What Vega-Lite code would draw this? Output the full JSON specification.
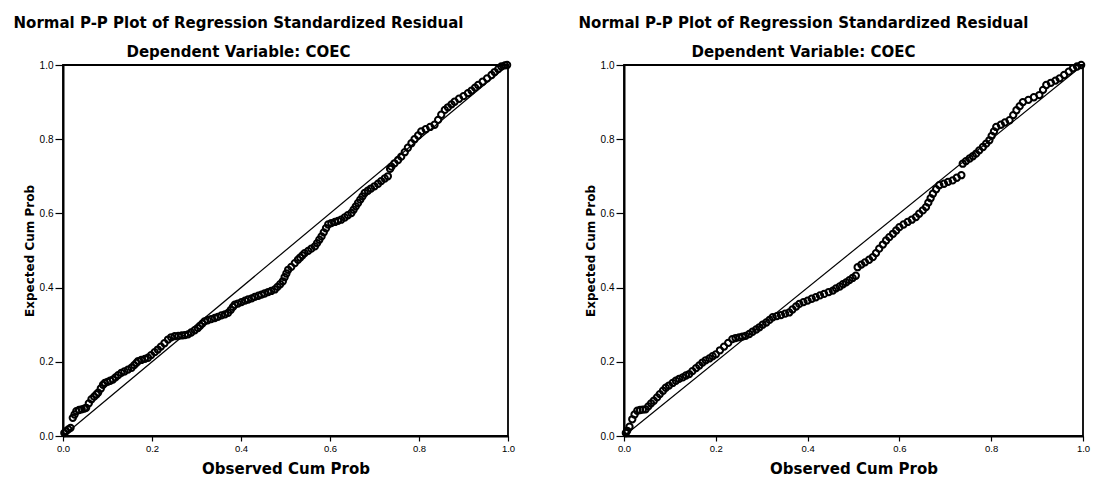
{
  "$schema": "https://vega.github.io/schema/vega-lite/v6.json",
  "background": "white",
  "padding": {"left": 12, "top": 14, "right": 0, "bottom": 0},
  "bounds": "flush",
  "spacing": 116,
  "datasets": {
    "diag": [{"x": 0, "y": 0}, {"x": 1, "y": 1}],
    "left": [
      {"x":0.003,"y":0.008},{"x":0.007,"y":0.013},{"x":0.012,"y":0.018},{"x":0.017,"y":0.022},{"x":0.022,"y":0.049},{"x":0.026,"y":0.058},{"x":0.030,"y":0.067},{"x":0.036,"y":0.070},{"x":0.042,"y":0.072},{"x":0.048,"y":0.074},{"x":0.052,"y":0.076},{"x":0.058,"y":0.088},{"x":0.064,"y":0.099},{"x":0.070,"y":0.106},{"x":0.075,"y":0.112},{"x":0.079,"y":0.117},{"x":0.085,"y":0.128},{"x":0.090,"y":0.138},{"x":0.094,"y":0.143},{"x":0.100,"y":0.146},{"x":0.106,"y":0.149},{"x":0.112,"y":0.152},{"x":0.118,"y":0.158},{"x":0.124,"y":0.164},{"x":0.131,"y":0.170},{"x":0.138,"y":0.174},{"x":0.146,"y":0.179},{"x":0.154,"y":0.184},{"x":0.160,"y":0.191},{"x":0.165,"y":0.197},{"x":0.169,"y":0.202},{"x":0.176,"y":0.205},{"x":0.184,"y":0.208},{"x":0.191,"y":0.211},{"x":0.198,"y":0.218},{"x":0.206,"y":0.226},{"x":0.213,"y":0.233},{"x":0.220,"y":0.241},{"x":0.228,"y":0.250},{"x":0.236,"y":0.260},{"x":0.243,"y":0.266},{"x":0.251,"y":0.269},{"x":0.259,"y":0.270},{"x":0.267,"y":0.271},{"x":0.274,"y":0.272},{"x":0.281,"y":0.274},{"x":0.288,"y":0.279},{"x":0.296,"y":0.285},{"x":0.303,"y":0.291},{"x":0.308,"y":0.297},{"x":0.313,"y":0.303},{"x":0.318,"y":0.309},{"x":0.325,"y":0.312},{"x":0.333,"y":0.315},{"x":0.341,"y":0.318},{"x":0.348,"y":0.321},{"x":0.356,"y":0.325},{"x":0.364,"y":0.328},{"x":0.371,"y":0.332},{"x":0.377,"y":0.340},{"x":0.382,"y":0.348},{"x":0.386,"y":0.354},{"x":0.393,"y":0.357},{"x":0.401,"y":0.361},{"x":0.409,"y":0.365},{"x":0.416,"y":0.368},{"x":0.424,"y":0.371},{"x":0.431,"y":0.375},{"x":0.439,"y":0.378},{"x":0.446,"y":0.381},{"x":0.453,"y":0.384},{"x":0.461,"y":0.388},{"x":0.468,"y":0.391},{"x":0.476,"y":0.395},{"x":0.482,"y":0.402},{"x":0.488,"y":0.409},{"x":0.494,"y":0.417},{"x":0.498,"y":0.428},{"x":0.502,"y":0.438},{"x":0.506,"y":0.448},{"x":0.513,"y":0.456},{"x":0.521,"y":0.466},{"x":0.528,"y":0.475},{"x":0.533,"y":0.481},{"x":0.538,"y":0.487},{"x":0.543,"y":0.493},{"x":0.551,"y":0.499},{"x":0.558,"y":0.505},{"x":0.566,"y":0.511},{"x":0.571,"y":0.520},{"x":0.576,"y":0.529},{"x":0.581,"y":0.538},{"x":0.586,"y":0.549},{"x":0.591,"y":0.560},{"x":0.596,"y":0.570},{"x":0.603,"y":0.574},{"x":0.611,"y":0.577},{"x":0.618,"y":0.580},{"x":0.625,"y":0.583},{"x":0.633,"y":0.589},{"x":0.640,"y":0.595},{"x":0.648,"y":0.601},{"x":0.653,"y":0.610},{"x":0.658,"y":0.619},{"x":0.663,"y":0.628},{"x":0.668,"y":0.637},{"x":0.673,"y":0.646},{"x":0.678,"y":0.655},{"x":0.685,"y":0.661},{"x":0.692,"y":0.667},{"x":0.700,"y":0.673},{"x":0.708,"y":0.680},{"x":0.715,"y":0.687},{"x":0.723,"y":0.694},{"x":0.730,"y":0.700},{"x":0.735,"y":0.720},{"x":0.738,"y":0.726},{"x":0.745,"y":0.735},{"x":0.753,"y":0.744},{"x":0.760,"y":0.753},{"x":0.768,"y":0.765},{"x":0.775,"y":0.777},{"x":0.783,"y":0.789},{"x":0.790,"y":0.800},{"x":0.798,"y":0.810},{"x":0.805,"y":0.821},{"x":0.815,"y":0.827},{"x":0.825,"y":0.833},{"x":0.835,"y":0.839},{"x":0.843,"y":0.852},{"x":0.850,"y":0.866},{"x":0.858,"y":0.879},{"x":0.865,"y":0.886},{"x":0.873,"y":0.894},{"x":0.880,"y":0.901},{"x":0.890,"y":0.909},{"x":0.900,"y":0.916},{"x":0.910,"y":0.924},{"x":0.918,"y":0.931},{"x":0.926,"y":0.939},{"x":0.933,"y":0.946},{"x":0.943,"y":0.955},{"x":0.953,"y":0.964},{"x":0.963,"y":0.973},{"x":0.970,"y":0.981},{"x":0.978,"y":0.989},{"x":0.985,"y":0.996},{"x":0.993,"y":0.999},{"x":0.998,"y":1.000}
    ],
    "right": [
      {"x":0.004,"y":0.008},{"x":0.007,"y":0.014},{"x":0.012,"y":0.025},{"x":0.018,"y":0.045},{"x":0.023,"y":0.058},{"x":0.029,"y":0.068},{"x":0.035,"y":0.070},{"x":0.041,"y":0.071},{"x":0.047,"y":0.072},{"x":0.053,"y":0.080},{"x":0.059,"y":0.088},{"x":0.065,"y":0.095},{"x":0.072,"y":0.104},{"x":0.078,"y":0.113},{"x":0.085,"y":0.122},{"x":0.091,"y":0.130},{"x":0.098,"y":0.136},{"x":0.106,"y":0.143},{"x":0.113,"y":0.149},{"x":0.120,"y":0.154},{"x":0.128,"y":0.158},{"x":0.135,"y":0.163},{"x":0.142,"y":0.167},{"x":0.149,"y":0.175},{"x":0.157,"y":0.183},{"x":0.164,"y":0.190},{"x":0.171,"y":0.198},{"x":0.178,"y":0.204},{"x":0.186,"y":0.209},{"x":0.193,"y":0.215},{"x":0.200,"y":0.220},{"x":0.209,"y":0.231},{"x":0.218,"y":0.241},{"x":0.227,"y":0.251},{"x":0.236,"y":0.261},{"x":0.243,"y":0.264},{"x":0.251,"y":0.266},{"x":0.258,"y":0.268},{"x":0.265,"y":0.270},{"x":0.273,"y":0.275},{"x":0.280,"y":0.281},{"x":0.288,"y":0.287},{"x":0.295,"y":0.293},{"x":0.302,"y":0.300},{"x":0.310,"y":0.306},{"x":0.317,"y":0.313},{"x":0.324,"y":0.320},{"x":0.333,"y":0.323},{"x":0.342,"y":0.326},{"x":0.351,"y":0.330},{"x":0.360,"y":0.333},{"x":0.367,"y":0.341},{"x":0.375,"y":0.349},{"x":0.382,"y":0.356},{"x":0.391,"y":0.361},{"x":0.400,"y":0.365},{"x":0.409,"y":0.370},{"x":0.418,"y":0.374},{"x":0.427,"y":0.379},{"x":0.436,"y":0.383},{"x":0.446,"y":0.388},{"x":0.455,"y":0.392},{"x":0.462,"y":0.398},{"x":0.470,"y":0.403},{"x":0.477,"y":0.409},{"x":0.484,"y":0.414},{"x":0.491,"y":0.420},{"x":0.498,"y":0.426},{"x":0.505,"y":0.432},{"x":0.509,"y":0.455},{"x":0.517,"y":0.462},{"x":0.525,"y":0.468},{"x":0.534,"y":0.475},{"x":0.542,"y":0.482},{"x":0.549,"y":0.493},{"x":0.556,"y":0.505},{"x":0.564,"y":0.516},{"x":0.571,"y":0.527},{"x":0.578,"y":0.536},{"x":0.586,"y":0.545},{"x":0.593,"y":0.554},{"x":0.600,"y":0.563},{"x":0.609,"y":0.570},{"x":0.618,"y":0.577},{"x":0.627,"y":0.583},{"x":0.636,"y":0.590},{"x":0.643,"y":0.599},{"x":0.651,"y":0.608},{"x":0.658,"y":0.617},{"x":0.663,"y":0.629},{"x":0.668,"y":0.641},{"x":0.673,"y":0.653},{"x":0.680,"y":0.665},{"x":0.687,"y":0.676},{"x":0.697,"y":0.680},{"x":0.706,"y":0.685},{"x":0.716,"y":0.689},{"x":0.725,"y":0.696},{"x":0.735,"y":0.703},{"x":0.738,"y":0.734},{"x":0.745,"y":0.741},{"x":0.753,"y":0.748},{"x":0.760,"y":0.754},{"x":0.767,"y":0.761},{"x":0.774,"y":0.770},{"x":0.782,"y":0.779},{"x":0.789,"y":0.788},{"x":0.796,"y":0.797},{"x":0.801,"y":0.809},{"x":0.806,"y":0.821},{"x":0.811,"y":0.833},{"x":0.821,"y":0.839},{"x":0.830,"y":0.845},{"x":0.840,"y":0.851},{"x":0.848,"y":0.865},{"x":0.855,"y":0.878},{"x":0.862,"y":0.889},{"x":0.869,"y":0.900},{"x":0.881,"y":0.906},{"x":0.893,"y":0.913},{"x":0.905,"y":0.919},{"x":0.913,"y":0.933},{"x":0.920,"y":0.946},{"x":0.930,"y":0.952},{"x":0.940,"y":0.958},{"x":0.949,"y":0.964},{"x":0.959,"y":0.973},{"x":0.969,"y":0.982},{"x":0.978,"y":0.991},{"x":0.987,"y":0.996},{"x":0.996,"y":1.000}
    ]
  },
  "hconcat": [
    {
      "width": 445,
      "height": 371,
      "title": {"text": "Normal P-P Plot of Regression Standardized Residual", "subtitle": "Dependent Variable: COEC", "dx": -47},
      "layer": [
        {
          "data": {"name": "diag"},
          "mark": {"type": "line", "color": "black", "strokeWidth": 1.2},
          "encoding": {
            "x": {"field": "x", "type": "quantitative", "scale": {"domain": [0, 1], "nice": false}, "axis": {"title": "Observed Cum Prob", "values": [0, 0.2, 0.4, 0.6, 0.8, 1], "format": ".1f"}},
            "y": {"field": "y", "type": "quantitative", "scale": {"domain": [0, 1], "nice": false}, "axis": {"title": "Expected Cum Prob", "values": [0, 0.2, 0.4, 0.6, 0.8, 1], "format": ".1f"}}
          }
        },
        {
          "data": {"name": "left"},
          "mark": {"type": "point", "shape": "circle", "filled": false, "stroke": "black", "strokeWidth": 2, "size": 40, "opacity": 1},
          "encoding": {
            "x": {"field": "x", "type": "quantitative"},
            "y": {"field": "y", "type": "quantitative"}
          }
        }
      ]
    },
    {
      "width": 459,
      "height": 371,
      "title": {"text": "Normal P-P Plot of Regression Standardized Residual", "subtitle": "Dependent Variable: COEC", "dx": -50},
      "layer": [
        {
          "data": {"name": "diag"},
          "mark": {"type": "line", "color": "black", "strokeWidth": 1.2},
          "encoding": {
            "x": {"field": "x", "type": "quantitative", "scale": {"domain": [0, 1], "nice": false}, "axis": {"title": "Observed Cum Prob", "values": [0, 0.2, 0.4, 0.6, 0.8, 1], "format": ".1f"}},
            "y": {"field": "y", "type": "quantitative", "scale": {"domain": [0, 1], "nice": false}, "axis": {"title": "Expected Cum Prob", "values": [0, 0.2, 0.4, 0.6, 0.8, 1], "format": ".1f"}}
          }
        },
        {
          "data": {"name": "right"},
          "mark": {"type": "point", "shape": "circle", "filled": false, "stroke": "black", "strokeWidth": 2, "size": 40, "opacity": 1},
          "encoding": {
            "x": {"field": "x", "type": "quantitative"},
            "y": {"field": "y", "type": "quantitative"}
          }
        }
      ]
    }
  ],
  "config": {
    "view": {"stroke": "black", "strokeWidth": 1.8},
    "axis": {"domainColor": "black", "domainWidth": 2, "tickColor": "black", "tickWidth": 1.2, "labelColor": "black", "labelFont": "Liberation Sans", "labelFlush": false, "titleColor": "black", "titleFont": "DejaVu Sans", "titleFontWeight": "bold", "grid": false},
    "axisX": {"tickSize": 5, "labelPadding": 2, "labelFontSize": 9.5, "titleFontSize": 15, "titlePadding": 9},
    "axisY": {"tickSize": 8, "labelPadding": 2, "labelFontSize": 10, "titleFontSize": 12, "titlePadding": 3},
    "title": {"anchor": "middle", "font": "DejaVu Sans", "fontSize": 15, "fontWeight": "bold", "color": "black", "subtitleFont": "DejaVu Sans", "subtitleFontSize": 15, "subtitleFontWeight": "bold", "subtitleColor": "black", "subtitlePadding": 14, "offset": -2}
  }
}
